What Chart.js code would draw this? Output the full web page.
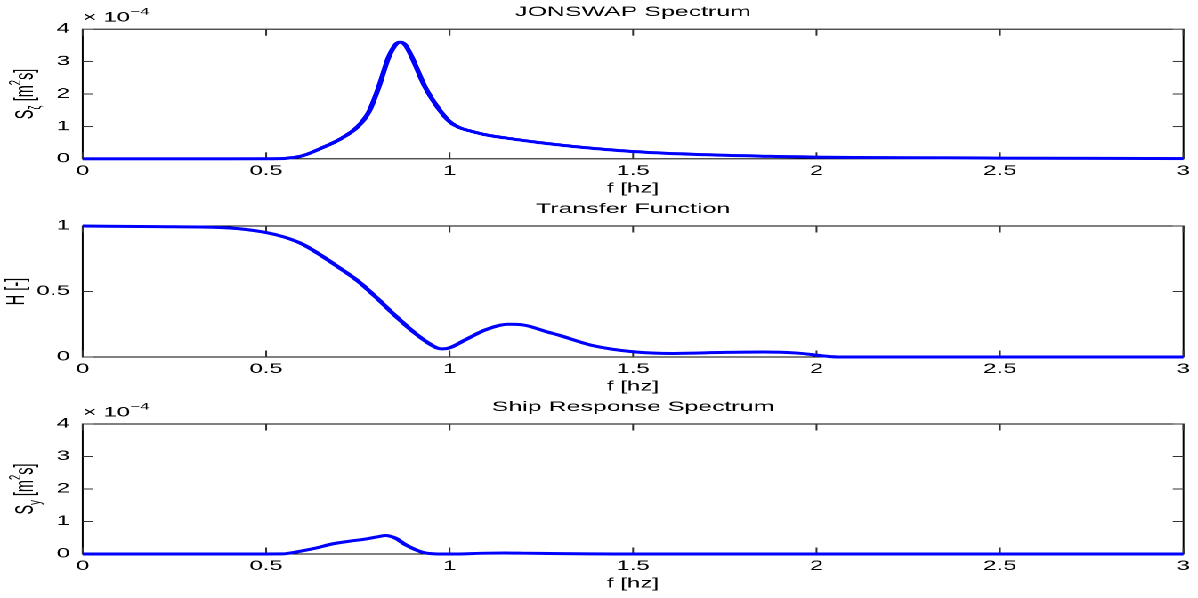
<!DOCTYPE html>
<html>
<head>
<meta charset="utf-8">
<title>JONSWAP / Transfer Function / Ship Response</title>
<script src="https://cdn.jsdelivr.net/npm/chart.js@4/dist/chart.umd.min.js"></script>
<style>
    html, body { margin: 0; padding: 0; background: #fff; }
    body { width: 1198px; height: 598px; overflow: hidden; position: relative; }
    #figure { position: absolute; left: 0; top: 0; height: 598px; transform-origin: 0 0; }
    .panel { position: absolute; left: 0; width: 100%; }
</style>
</head>
<body>
<div id="figure">
    <div class="panel" id="spectrumBox"><canvas id="spectrumChart"></canvas></div>
    <div class="panel" id="transferBox"><canvas id="transferChart"></canvas></div>
    <div class="panel" id="responseBox"><canvas id="responseChart"></canvas></div>
</div>
<script>
// Frequency axis, shared by all three panels
const xTicks = [0, 0.5, 1, 1.5, 2, 2.5, 3];
const xTickLabels = ['0', '0.5', '1', '1.5', '2', '2.5', '3'];

// Spectrum axes are in units of 1e-4 m^2 s
const spectrumTicks = [0, 1, 2, 3, 4];
const spectrumTickLabels = ['0', '1', '2', '3', '4'];
const transferTicks = [0, 0.5, 1];
const transferTickLabels = ['0', '0.5', '1'];

// JONSWAP wave spectrum (x 1e-4)
const jonswapFreq = [0, 0.4, 0.5, 0.55, 0.6, 0.65, 0.7, 0.75, 0.78, 0.807, 0.834, 0.855, 0.866, 0.88, 0.897,
    0.933, 0.97, 1.0, 1.03, 1.06, 1.1, 1.15, 1.24, 1.377, 1.512, 1.693, 1.874, 2.0, 2.25, 2.5, 2.75, 3.0];
const jonswapValues = [0, 0, 0.002, 0.015, 0.1, 0.33, 0.6, 1.0, 1.45, 2.22, 3.14, 3.55, 3.6, 3.5, 3.14,
    2.22, 1.55, 1.15, 0.95, 0.85, 0.74, 0.65, 0.51, 0.34, 0.22, 0.13, 0.08, 0.055, 0.035, 0.025, 0.018, 0.013];

// Transfer function H [-]
const transferFreq = [0, 0.2, 0.4, 0.5, 0.55, 0.6, 0.65, 0.7, 0.75, 0.8, 0.85, 0.9, 0.94, 0.965, 0.98,
    1.0, 1.042, 1.1, 1.16, 1.2, 1.268, 1.3, 1.386, 1.5, 1.61, 1.75, 1.856, 1.947, 2.02, 2.06, 3.0];
const transferValues = [1, 0.995, 0.985, 0.95, 0.915, 0.86, 0.775, 0.68, 0.58, 0.455, 0.32, 0.195, 0.11, 0.07, 0.062,
    0.07, 0.13, 0.21, 0.25, 0.245, 0.19, 0.165, 0.09, 0.04, 0.027, 0.035, 0.038, 0.03, 0.008, 0, 0];

// Ship response spectrum (x 1e-4)
const responseFreq = [0, 0.5, 0.544, 0.59, 0.635, 0.68, 0.725, 0.771, 0.8, 0.825, 0.852, 0.879, 0.924, 0.96,
    1.0, 1.1, 1.15, 1.2, 1.3, 1.45, 3.0];
const responseValues = [0, 0, 0.002, 0.08, 0.18, 0.31, 0.39, 0.46, 0.52, 0.57, 0.49, 0.29, 0.06, 0.005,
    0, 0.025, 0.03, 0.025, 0.01, 0, 0];

// The reference figure is stretched horizontally, so draw narrow and scale in x
const SX = 1.78;
const W = 1198 / SX;
const FONT = '"Liberation Sans", Arial, Helvetica, sans-serif';
const FONT_SIZE = 13.5;
const TITLE_SIZE = 14;
const LABEL_SIZE = 14.5;
const SMALL_SIZE = 9.5;
const PLOT_LEFT = 82.7;    // page pixels
const PLOT_RIGHT = 1188;
const TITLE_SPACE = 30;
const XAXIS_SPACE = 42;

// Draws the MATLAB style box, inward ticks, title, y label and exponent
const matlabAxes = {
    id: 'matlabAxes',
    beforeDatasetsDraw(chart) {
        const { ctx, chartArea: a, scales: { x, y } } = chart;
        ctx.save();
        ctx.strokeStyle = '#000';
        ctx.lineWidth = 1;
        ctx.strokeRect(a.left, a.top, a.right - a.left, a.bottom - a.top);
        ctx.strokeStyle = '#333';
        ctx.beginPath();
        x.ticks.forEach(t => {
            const px = x.getPixelForValue(t.value);
            ctx.moveTo(px, a.bottom); ctx.lineTo(px, a.bottom - 6.5);
            ctx.moveTo(px, a.top); ctx.lineTo(px, a.top + 6.5);
        });
        y.ticks.forEach(t => {
            const py = y.getPixelForValue(t.value);
            ctx.moveTo(a.left, py); ctx.lineTo(a.left + 6, py);
            ctx.moveTo(a.right, py); ctx.lineTo(a.right - 6, py);
        });
        ctx.stroke();
        ctx.restore();
    },
    afterDraw(chart, args, opts) {
        const { ctx, chartArea: a } = chart;
        ctx.save();
        ctx.fillStyle = '#000';

        // title
        ctx.font = `${TITLE_SIZE}px ${FONT}`;
        ctx.textAlign = 'center';
        ctx.textBaseline = 'middle';
        ctx.fillText(opts.title, (a.left + a.right) / 2, a.top - 17);

        // rotated y label with sub/superscripts
        ctx.textAlign = 'left';
        ctx.textBaseline = 'alphabetic';
        const parts = opts.yLabel;
        const total = measureParts(ctx, parts, LABEL_SIZE);
        ctx.translate(a.left - (PLOT_LEFT - opts.yLabelX) / SX, (a.top + a.bottom) / 2);
        ctx.rotate(-Math.PI / 2);
        drawParts(ctx, parts, -total / 2, 0, LABEL_SIZE);
        ctx.setTransform(chart.currentDevicePixelRatio, 0, 0, chart.currentDevicePixelRatio, 0, 0);

        // axis exponent
        if (opts.exponent) {
            drawParts(ctx, [{ t: '\u00d7 10' }, { t: '\u22124', sup: true }], a.left, a.top - 7.3, FONT_SIZE);
        }
        ctx.restore();
    }
};

function partFont(p, size) {
    return `${p.sub || p.sup ? SMALL_SIZE : size}px ${FONT}`;
}

function measureParts(ctx, parts, size) {
    let w = 0;
    parts.forEach(p => { ctx.font = partFont(p, size); w += ctx.measureText(p.t).width; });
    return w;
}

function drawParts(ctx, parts, x, y, size) {
    parts.forEach(p => {
        ctx.font = partFont(p, size);
        const dy = p.sub ? 4 : (p.sup ? -7 : 0);
        ctx.fillText(p.t, x, y + dy);
        x += ctx.measureText(p.t).width;
    });
}

const panels = [
    {
        box: 'spectrumBox', canvas: 'spectrumChart', top: 29, bottom: 158.5,
        title: 'JONSWAP Spectrum', exponent: true, yLabelX: 33,
        yLabel: [{ t: 'S' }, { t: '\u03b6', sub: true }, { t: ' [m' }, { t: '2', sup: true }, { t: 's]' }],
        freq: jonswapFreq, values: jonswapValues, ticks: spectrumTicks, tickLabels: spectrumTickLabels, max: 4
    },
    {
        box: 'transferBox', canvas: 'transferChart', top: 226, bottom: 357,
        title: 'Transfer Function', exponent: false, yLabelX: 24,
        yLabel: [{ t: 'H [-]' }],
        freq: transferFreq, values: transferValues, ticks: transferTicks, tickLabels: transferTickLabels, max: 1
    },
    {
        box: 'responseBox', canvas: 'responseChart', top: 424.3, bottom: 554.3,
        title: 'Ship Response Spectrum', exponent: true, yLabelX: 33,
        yLabel: [{ t: 'S' }, { t: 'y', sub: true }, { t: ' [m' }, { t: '2', sup: true }, { t: 's]' }],
        freq: responseFreq, values: responseValues, ticks: spectrumTicks, tickLabels: spectrumTickLabels, max: 4
    }
];

function makeChart(p) {
    const box = document.getElementById(p.box);
    box.style.top = (p.top - TITLE_SPACE) + 'px';
    box.style.height = (TITLE_SPACE + (p.bottom - p.top) + XAXIS_SPACE) + 'px';

    return new Chart(document.getElementById(p.canvas), {
        type: 'line',
        data: {
            datasets: [{
                data: p.freq.map((f, i) => ({ x: f, y: p.values[i] })),
                borderColor: '#0000ff',
                borderWidth: 3,
                pointRadius: 0,
                fill: false,
                cubicInterpolationMode: 'monotone',
                clip: 4
            }]
        },
        plugins: [matlabAxes],
        options: {
            responsive: true,
            maintainAspectRatio: false,
            animation: false,
            devicePixelRatio: 2,
            events: [],
            layout: { padding: { top: TITLE_SPACE, right: W - PLOT_RIGHT / SX, left: 0, bottom: 0 } },
            plugins: {
                legend: { display: false },
                tooltip: { enabled: false },
                matlabAxes: { title: p.title, yLabel: p.yLabel, yLabelX: p.yLabelX, exponent: p.exponent }
            },
            scales: {
                x: {
                    type: 'linear', min: 0, max: 3,
                    grid: { display: false, drawTicks: false },
                    border: { display: false },
                    afterBuildTicks: s => { s.ticks = xTicks.map(v => ({ value: v })); },
                    afterFit: s => { s.height = XAXIS_SPACE; },
                    ticks: {
                        color: '#000', font: { family: FONT, size: FONT_SIZE }, padding: 4.4,
                        maxRotation: 0, autoSkip: false,
                        callback: (v, i) => xTickLabels[i]
                    },
                    title: {
                        display: true, text: 'f [hz]', color: '#000',
                        font: { family: FONT, size: FONT_SIZE }, padding: { top: 0, bottom: 3.9 }
                    }
                },
                y: {
                    type: 'linear', min: 0, max: p.max,
                    grid: { display: false, drawTicks: false },
                    border: { display: false },
                    afterBuildTicks: s => { s.ticks = p.ticks.map(v => ({ value: v })); },
                    afterFit: s => { s.width = PLOT_LEFT / SX; },
                    ticks: {
                        color: '#000', font: { family: FONT, size: FONT_SIZE }, padding: 7.2,
                        autoSkip: false,
                        callback: (v, i) => p.tickLabels[i]
                    }
                }
            }
        }
    });
}

document.addEventListener('DOMContentLoaded', function() {
    const fig = document.getElementById('figure');
    fig.style.width = W + 'px';
    fig.style.transform = `scaleX(${SX})`;
    panels.forEach(makeChart);
});
</script>
</body>
</html>
